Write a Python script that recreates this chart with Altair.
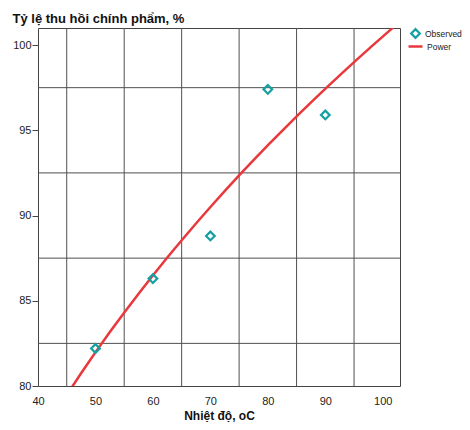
import altair as alt
import pandas as pd

# Observed data
temps = [50, 60, 70, 80, 90]
yields = [82.2, 86.3, 88.8, 97.4, 95.9]

# Axis ticks and grid
x_ticks = [40, 50, 60, 70, 80, 90, 100]
y_ticks = [80, 85, 90, 95, 100]
x_grid = [45, 55, 65, 75, 85, 95]
y_grid = [82.5, 87.5, 92.5, 97.5]

TEAL = "#14a0a0"
RED = "#e8383c"
GRID = "#505050"
FONT = "Liberation Sans"

obs = pd.DataFrame({"x": temps, "y": yields, "series": ["Observed"] * len(temps)})
xg = pd.DataFrame({"gx": x_grid})
yg = pd.DataFrame({"gy": y_grid})

xscale = alt.Scale(domain=[40, 103], nice=False, zero=False)
yscale = alt.Scale(domain=[80, 101], nice=False, zero=False)

x_axis = alt.Axis(
    values=x_ticks, grid=False, ticks=False, tickSize=0, domain=False,
    labelFlush=False, labelOverlap=False,
    labelPadding=9, labelFontSize=11, labelColor="#222", labelFont=FONT,
    title="Nhiệt độ, oC", titleFont=FONT, titleFontSize=12, titleFontWeight="bold",
    titleColor="#111", titleBaseline="alphabetic", titleY=33,
)
y_axis = alt.Axis(
    values=y_ticks, grid=False, ticks=True, tickSize=6, tickColor="#444",
    labelFlush=False, labelOverlap=False,
    domain=False, labelPadding=1, labelFontSize=11, labelColor="#222", labelFont=FONT,
    title="Tỷ lệ thu hồi chính phẩm, %", titleFont=FONT, titleFontSize=13,
    titleFontWeight="bold", titleColor="#111", titleAngle=0, titleAlign="left",
    titleBaseline="alphabetic", titleX=-26, titleY=-6,
)

vgrid = alt.Chart(xg).mark_rule(color=GRID, strokeWidth=1).encode(
    x=alt.X("gx:Q", scale=xscale, axis=x_axis)
)
hgrid = alt.Chart(yg).mark_rule(color=GRID, strokeWidth=1).encode(
    y=alt.Y("gy:Q", scale=yscale, axis=y_axis)
)

line = (
    alt.Chart(obs)
    .transform_regression("x", "y", method="pow", extent=[40, 103])
    .transform_calculate(series="'Power'")
    .mark_line(strokeWidth=2.5, clip=True)
    .encode(
        x=alt.X("x:Q", scale=xscale),
        y=alt.Y("y:Q", scale=yscale),
        stroke=alt.Stroke(
            "series:N",
            scale=alt.Scale(domain=["Power"], range=[RED]),
            legend=alt.Legend(
                title=None, orient="none", legendX=369, legendY=10, padding=0,
                symbolType="stroke", symbolSize=196, symbolStrokeWidth=2.5,
                labelFont=FONT, labelFontSize=8.5, labelColor="#222", labelOffset=3,
            ),
        ),
    )
)

points = (
    alt.Chart(obs)
    .mark_point(shape="diamond", filled=False, size=75, strokeWidth=2.2, opacity=1)
    .encode(
        x=alt.X("x:Q", scale=xscale),
        y=alt.Y("y:Q", scale=yscale),
        color=alt.Color(
            "series:N",
            scale=alt.Scale(domain=["Observed"], range=[TEAL]),
            legend=alt.Legend(
                title=None, orient="none", legendX=372, legendY=0, padding=0,
                symbolType="diamond", symbolSize=75, symbolStrokeWidth=2.2,
                labelFont=FONT, labelFontSize=8.5, labelColor="#222", labelOffset=4,
            ),
        ),
    )
)

chart = (
    alt.layer(vgrid, hgrid, line, points)
    .resolve_scale(color="independent", stroke="independent")
    .properties(
        width=362, height=358,
        autosize=alt.AutoSizeParams(type="none"),
        padding={"left": 30, "top": 20, "right": 62, "bottom": 36},
        background="white",
    )
    .configure_view(stroke="#444", strokeWidth=1)
)

chart.save("out.html", embed_options={"renderer": "svg", "actions": False})
